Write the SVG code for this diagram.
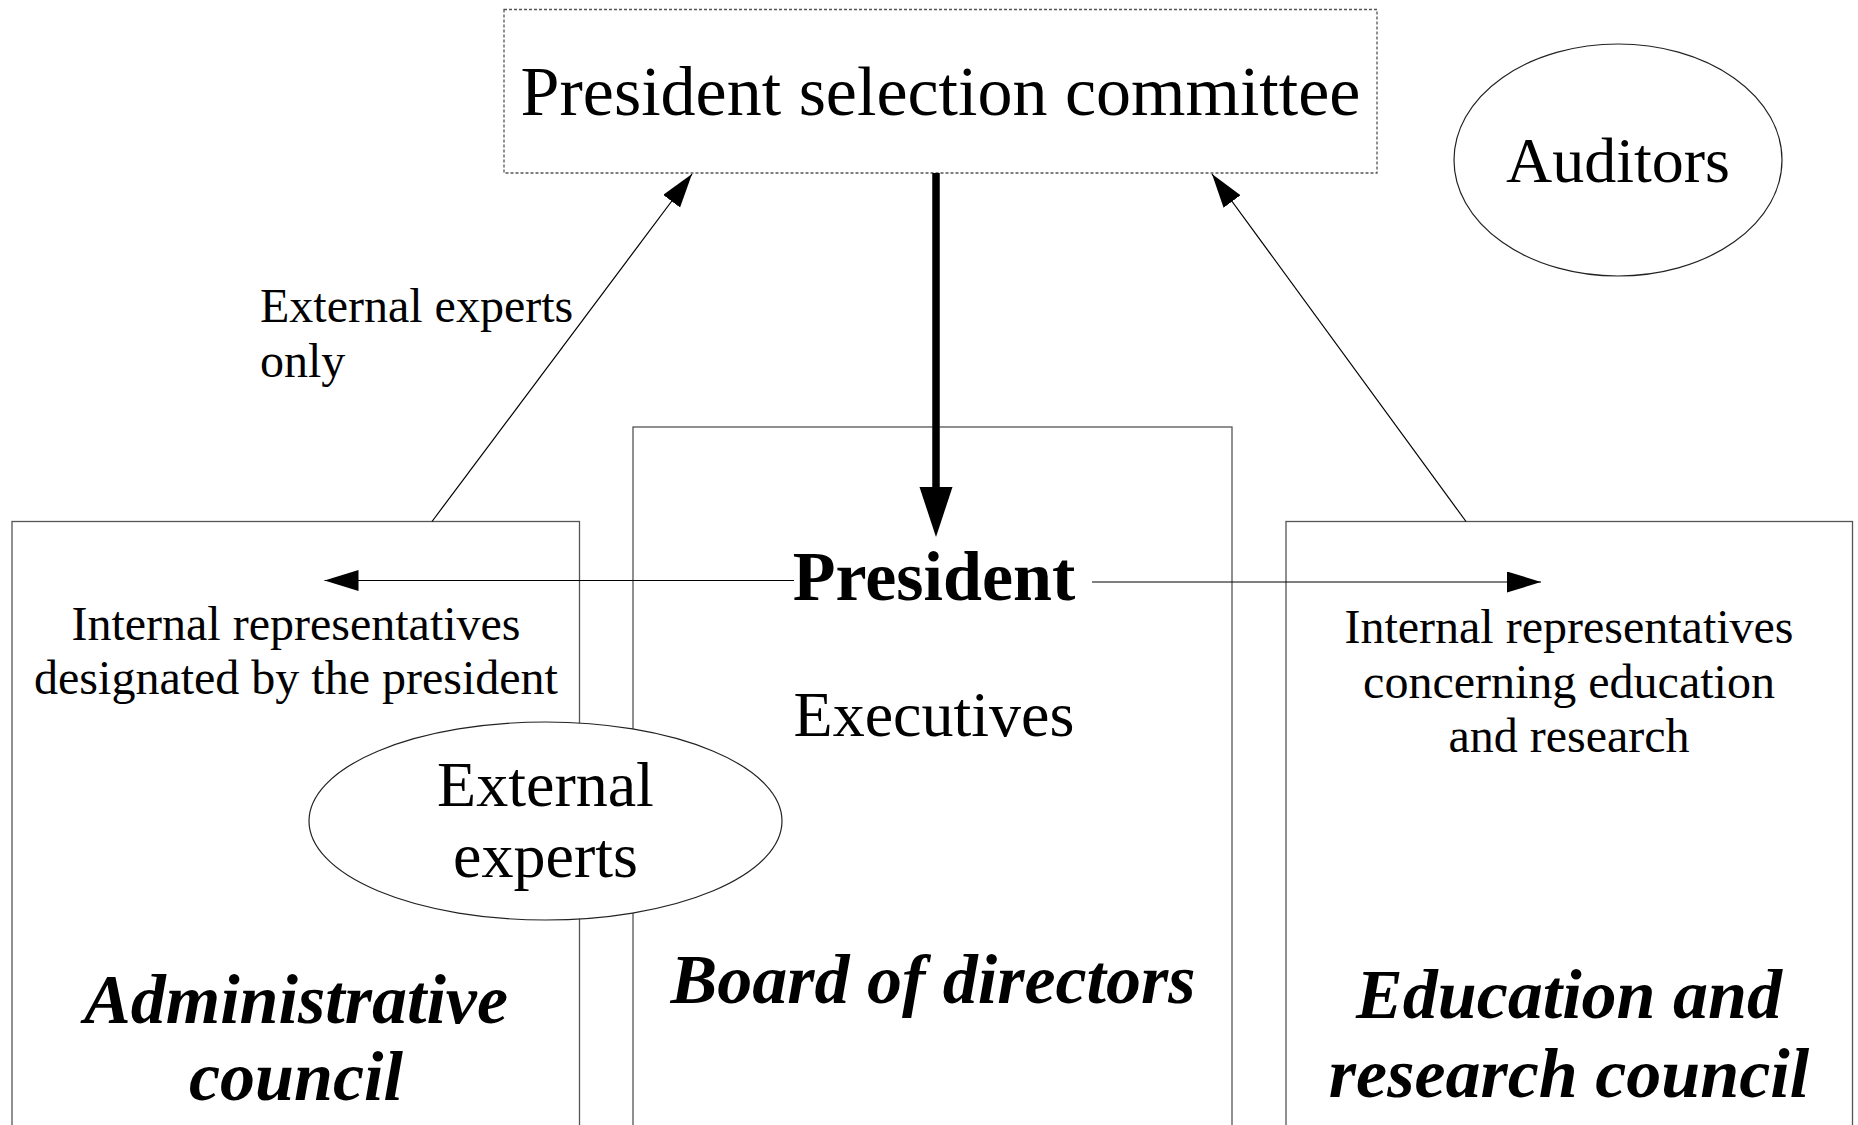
<svg xmlns="http://www.w3.org/2000/svg" width="1858" height="1125" viewBox="0 0 1858 1125">
<defs>
<style>
.box{fill:none;stroke:#555;stroke-width:1.3}
.dash{fill:#fff;stroke:#555;stroke-width:1.3;stroke-dasharray:3,2}
.ell{fill:#fff;stroke:#222;stroke-width:1.2}
.con{fill:none;stroke:#000;stroke-width:1.2}
.thick{fill:none;stroke:#000;stroke-width:7.5}
text{font-family:"Liberation Serif","Times New Roman",serif;fill:#000;text-anchor:middle}
.big{font-size:70px}
.mid{font-size:64px}
.small{font-size:48px}
.bold{font-size:70px;font-weight:bold}
.bi{font-size:70px;font-weight:bold;font-style:italic}
</style>
<marker id="ah" markerUnits="userSpaceOnUse" markerWidth="36" markerHeight="24" refX="34" refY="10.5" orient="auto">
<path d="M0,0 L34,10.5 L0,21 z" fill="#000"/>
</marker>
<marker id="ahT" markerUnits="userSpaceOnUse" markerWidth="52" markerHeight="34" refX="50" refY="16.5" orient="auto">
<path d="M0,0 L50,16.5 L0,33 z" fill="#000"/>
</marker>
</defs>
<rect width="1858" height="1125" fill="#fff"/>

<g id="board">
<rect class="box" x="633" y="427" width="599" height="720"/>
</g>
<g id="admin">
<rect class="box" x="12" y="521.5" width="567.5" height="640"/>
</g>
<g id="edu">
<rect class="box" x="1286" y="521.5" width="566.5" height="640"/>
</g>
<g id="committee">
<rect class="dash" x="504" y="9.5" width="873" height="163.5"/>
<text class="big" x="940.5" y="115">President selection committee</text>
</g>

<g id="connectors">
<line class="thick" x1="936" y1="173" x2="936" y2="500"/>
<path d="M919.5,487 L952.5,487 L936,537 z" fill="#000"/>
<line class="con" x1="432" y1="521.5" x2="692" y2="174" marker-end="url(#ah)"/>
<line class="con" x1="1466" y1="521.5" x2="1212" y2="174" marker-end="url(#ah)"/>
<line class="con" x1="794" y1="580.5" x2="324.5" y2="580.5" marker-end="url(#ah)"/>
<line class="con" x1="1092" y1="582" x2="1541" y2="582" marker-end="url(#ah)"/>
</g>

<g id="auditors">
<ellipse class="ell" cx="1618" cy="160" rx="164" ry="116"/>
<text class="mid" x="1618" y="182">Auditors</text>
</g>
<g id="external-experts">
<ellipse class="ell" cx="545.5" cy="821" rx="236.5" ry="99"/>
<text class="mid" x="545.5" y="806">External</text>
<text class="mid" x="545.5" y="877">experts</text>
</g>

<g id="labels">
<text class="small" x="260" y="322" style="text-anchor:start">External experts</text>
<text class="small" x="260" y="377" style="text-anchor:start">only</text>
<text class="bold" x="934" y="600">President</text>
<text class="mid" x="934" y="736">Executives</text>
<text class="small" x="296" y="640">Internal representatives</text>
<text class="small" x="296" y="694">designated by the president</text>
<text class="small" x="1569" y="643">Internal representatives</text>
<text class="small" x="1569" y="698">concerning education</text>
<text class="small" x="1569" y="752">and research</text>
<text class="bi" x="296" y="1023">Administrative</text>
<text class="bi" x="296" y="1100">council</text>
<text class="bi" x="933" y="1003">Board of directors</text>
<text class="bi" x="1569" y="1018">Education and</text>
<text class="bi" x="1569" y="1097">research council</text>
</g>
</svg>
